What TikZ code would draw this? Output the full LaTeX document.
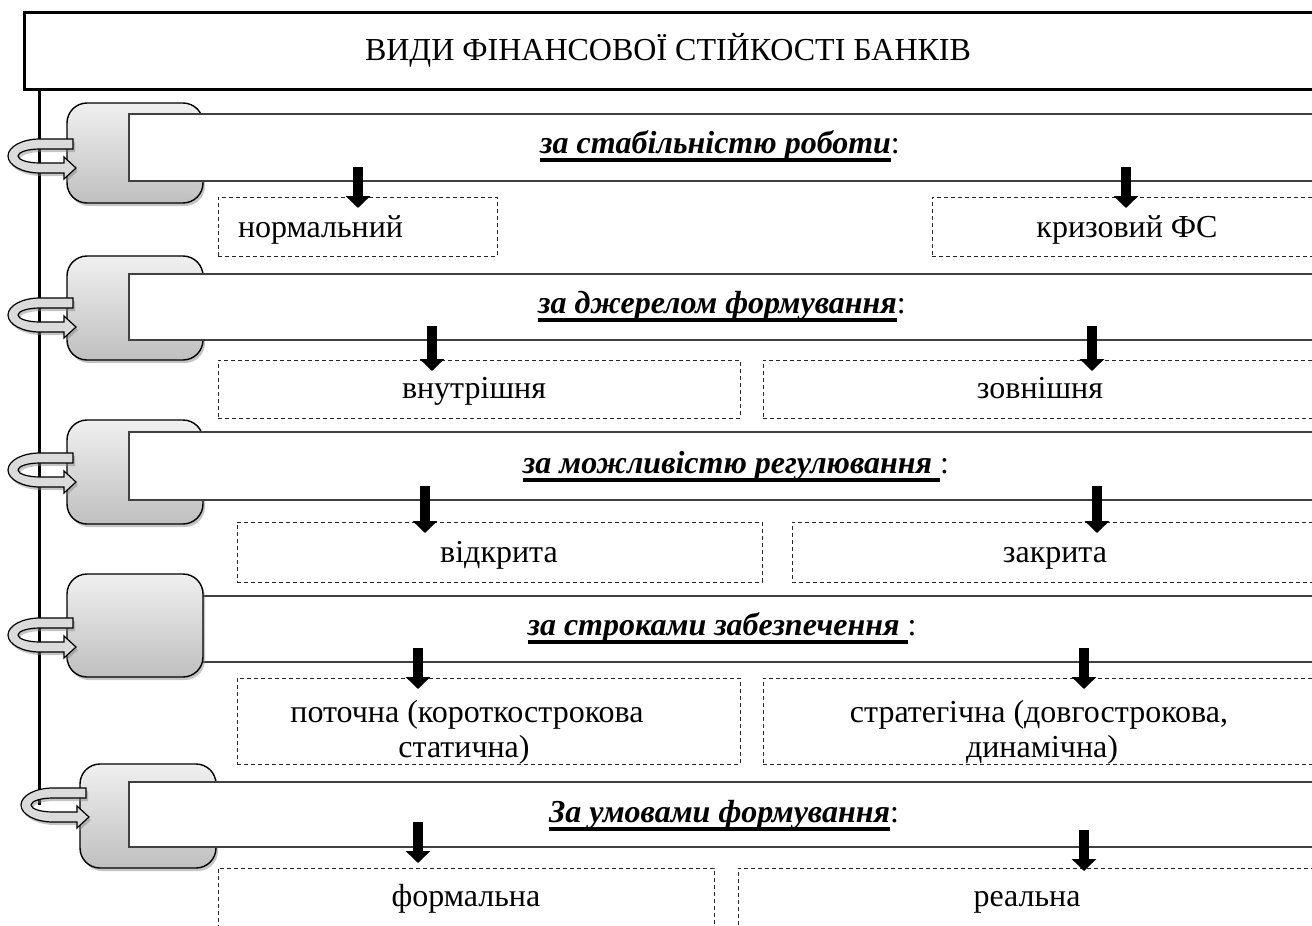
\documentclass[tikz,border=0pt]{standalone}
\usepackage{fontspec}
\setmainfont{Liberation Serif}
\usetikzlibrary{shadows,arrows.meta,calc}
\newcommand\thickul[1]{\setbox0\hbox{#1}\rlap{\vrule width\wd0 height -4.5pt depth 8.5pt}\box0}
\newcommand\lbltext[2]{\thickul{\bfseries\itshape #1}\textup{\mdseries #2}}
\newcommand\ringarrow[2]{%
  \pgfmathsetmacro\rL{#1}\pgfmathsetmacro\rc{#1-27}\pgfmathsetmacro\ry{#2}%
  \draw[ring] (\rL+6,\ry-17) -- (\rc,\ry-17)
    .. controls (\rc-17.7,\ry-17) and (\rc-32,\ry-9.4) .. (\rc-32,\ry)
    .. controls (\rc-32,\ry+9.4) and (\rc-17.7,\ry+17) .. (\rc,\ry+17)
    -- (\rL-3,\ry+17) -- (\rL-3,\ry+23) -- (\rL+9,\ry+12) -- (\rL-3,\ry+1) -- (\rL-3,\ry+7)
    -- (\rc,\ry+7)
    .. controls (\rc-12.2,\ry+7) and (\rc-22,\ry+3.9) .. (\rc-22,\ry)
    .. controls (\rc-22,\ry-3.9) and (\rc-12.2,\ry-7) .. (\rc,\ry-7)
    -- (\rL+6,\ry-7) -- cycle;}
\tikzset{
  every node/.style={font=\fontsize{32}{36}\selectfont, inner sep=0pt, outer sep=0pt},
  titlebox/.style={draw, line width=3pt, fill=white},
  tabbox/.style={draw, line width=1.4pt, rounded corners=20pt, top color=black!6, bottom color=black!25,
    drop shadow={opacity=0.45, shadow xshift=2pt, shadow yshift=-3pt}},
  whitebar/.style={draw=black!75, line width=1.5pt, fill=white},
  choice/.style={draw=black!85, line width=1pt, dash pattern=on 4pt off 3pt},
  fat/.style={line width=10pt, -{Triangle[width=24pt,length=12pt]}},
  ring/.style={draw, line width=1.2pt, fill=black!14,
    drop shadow={opacity=0.45, shadow xshift=2pt, shadow yshift=-3pt}},
  spine/.style={line width=3pt},
  txt/.style={anchor=base}
}
\begin{document}
\begin{tikzpicture}[x=1pt,y=-1pt]
\useasboundingbox (0,0) rectangle (1312,926);
\clip (0,0) rectangle (1312,926);
\fill[white] (0,0) rectangle (1312,926);

% title and spine
\node[titlebox, minimum width=1292, minimum height=77] (title) at (670,50.5) {};
\node[txt] (titletext) at (668,60) {ВИДИ ФІНАНСОВОЇ СТІЙКОСТІ БАНКІВ};
\coordinate (s0) at (39,89);
\coordinate (s1) at (39,805);
\draw[spine] (s0) -- (s1);

% ---------- group 1
\node[tabbox, minimum width=136, minimum height=100] (t1) at (135,153) {};
\node[whitebar, minimum width=1201, minimum height=67] (w1) at (729.5,147.5) {};
\node[txt] (l1) at (720,153) {\lbltext{за стабільністю роботи}{:}};
\ringarrow{67}{156}
\node[choice, minimum width=279, minimum height=59] (d11) at (357.5,226.5) {};
\node[choice, minimum width=388, minimum height=59] (d12) at (1126,226.5) {};
\node[txt, anchor=base west] (x11) at (238,237) {нормальний};
\node[txt] (x12) at (1127,237) {кризовий ФС};
\coordinate (a11) at (358,167); \coordinate (b11) at (358,208);
\coordinate (a12) at (1126,167); \coordinate (b12) at (1126,208);
\draw[fat] (a11) -- (b11);
\draw[fat] (a12) -- (b12);

% ---------- group 2
\node[tabbox, minimum width=136, minimum height=104] (t2) at (135,308) {};
\node[whitebar, minimum width=1201, minimum height=66] (w2) at (729.5,307) {};
\node[txt] (l2) at (722,313) {\lbltext{за джерелом формування}{:}};
\ringarrow{67}{315}
\node[choice, minimum width=522, minimum height=58] (d21) at (479,389) {};
\node[choice, minimum width=557, minimum height=58] (d22) at (1041.5,389) {};
\node[txt] (x21) at (474,398) {внутрішня};
\node[txt] (x22) at (1040,398) {зовнішня};
\coordinate (a21) at (432,326); \coordinate (b21) at (432,371);
\coordinate (a22) at (1092,326); \coordinate (b22) at (1092,371);
\draw[fat] (a21) -- (b21);
\draw[fat] (a22) -- (b22);

% ---------- group 3
\node[tabbox, minimum width=136, minimum height=104] (t3) at (135,472) {};
\node[whitebar, minimum width=1201, minimum height=68] (w3) at (729.5,466) {};
\node[txt] (l3) at (736,473) {\lbltext{за можливістю регулювання\ }{:}};
\ringarrow{67}{470}
\node[choice, minimum width=525, minimum height=60] (d31) at (499.5,552) {};
\node[choice, minimum width=528, minimum height=60] (d32) at (1056,552) {};
\node[txt] (x31) at (499,562) {відкрита};
\node[txt] (x32) at (1055,562) {закрита};
\coordinate (a31) at (425,486); \coordinate (b31) at (425,533);
\coordinate (a32) at (1097,486); \coordinate (b32) at (1097,533);
\draw[fat] (a31) -- (b31);
\draw[fat] (a32) -- (b32);

% ---------- group 4
\node[whitebar, minimum width=1201, minimum height=66] (w4) at (729.5,629) {};
\node[tabbox, minimum width=136, minimum height=103] (t4) at (135,625.5) {};
\node[txt] (l4) at (722,635) {\lbltext{за строками забезпечення\ }{:}};
\ringarrow{67}{635}
\node[choice, minimum width=503, minimum height=86] (d41) at (488.5,721) {};
\node[choice, minimum width=557, minimum height=86] (d42) at (1041.5,721) {};
\node[txt] (x41) at (467,722) {поточна (короткострокова};
\node[txt] (x41b) at (464,757) {статична)};
\node[txt] (x42) at (1039,722) {стратегічна (довгострокова,};
\node[txt] (x42b) at (1042,757) {динамічна)};
\coordinate (a41) at (418,648); \coordinate (b41) at (418,689);
\coordinate (a42) at (1084,648); \coordinate (b42) at (1084,689);
\draw[fat] (a41) -- (b41);
\draw[fat] (a42) -- (b42);

% ---------- group 5
\node[tabbox, minimum width=136, minimum height=104] (t5) at (148,816) {};
\node[whitebar, minimum width=1201, minimum height=65] (w5) at (729.5,814.5) {};
\node[txt] (l5) at (724,822) {\lbltext{За умовами формування}{:}};
\ringarrow{80}{805}
\node[choice, minimum width=496, minimum height=92] (d51) at (466,914) {};
\node[choice, minimum width=582, minimum height=92] (d52) at (1029,914) {};
\node[txt] (x51) at (466,906) {формальна};
\node[txt] (x52) at (1027,906) {реальна};
\coordinate (a51) at (418,822); \coordinate (b51) at (418,863);
\coordinate (a52) at (1084,830); \coordinate (b52) at (1084,871);
\draw[fat] (a51) -- (b51);
\draw[fat] (a52) -- (b52);
\end{tikzpicture}
\end{document}
